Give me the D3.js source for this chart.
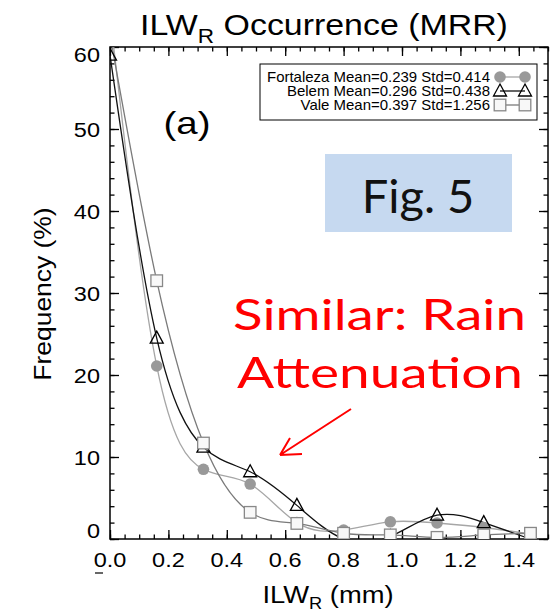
<!DOCTYPE html>
<html>
<head>
<meta charset="utf-8">
<script src="https://cdn.jsdelivr.net/npm/d3@7"></script>
<style>
body{margin:0;background:#fff;}
svg{display:block;font-family:"Liberation Sans",Arial,Helvetica,sans-serif;}
</style>
</head>
<body>
<svg id="chart"></svg>
<script>
// bin centres (mm) and frequency (%) per site
var xBins=[0.00,0.16,0.32,0.48,0.64,0.80,0.96,1.12,1.28,1.44]
var fortaleza=[64,21.1,8.5,6.7,2.0,1.1,2.1,1.95,1.4,0.6]
var belem=[59,24.5,11.2,8.2,4.1,0,0.3,2.9,2.0,0]
var vale=[61.5,31.5,11.7,3.25,1.9,0.7,0.5,0.2,0.5,0.7]
var legendLabels=["Fortaleza Mean=0.239 Std=0.414","Belem Mean=0.296 Std=0.438","Vale Mean=0.397 Std=1.256"]
var xTicks=[0.0,0.2,0.4,0.6,0.8,1.0,1.2,1.4]
var yTicks=[0,10,20,30,40,50,60]

var width=554,height=613
var pLeft=110,pRight=548,pTop=47,pBottom=539

var svg=d3.select("#chart").attr("width",width).attr("height",height)

var x=d3.scaleLinear().domain([0,1.5]).range([pLeft,pRight])
var y=d3.scaleLinear().domain([0,60]).range([pBottom,pTop])

svg.append("defs").append("clipPath").attr("id","clip")
.append("rect").attr("x",pLeft).attr("y",pTop).attr("width",pRight-pLeft).attr("height",pBottom-pTop)

// text a bit wider than the installed font, like the source image
function stext(px,py,sx,size,anchor){
	return svg.append("g").attr("transform",`translate(${px},${py}) scale(${sx},1)`)
	.append("text").attr("text-anchor",anchor||"middle").attr("font-size",size)
}

// axes: majors + minors, ticks pointing inward, mirrored on top/right
var minorX=d3.range(0,1.5001,0.05)
var minorY=d3.range(0,60.001,2)
function drawAxis(axis,tr){
	svg.append("g").attr("transform",tr).call(axis)
	.call(g=>g.select(".domain").remove())
	.call(g=>g.selectAll("line").attr("stroke","#000").attr("stroke-width",1.3))
}
drawAxis(d3.axisBottom(x).tickValues(minorX).tickSize(-4.5).tickFormat(""),`translate(0,${pBottom})`)
drawAxis(d3.axisBottom(x).tickValues(xTicks).tickSize(-9).tickFormat(""),`translate(0,${pBottom})`)
drawAxis(d3.axisTop(x).tickValues(minorX).tickSize(-4.5).tickFormat(""),`translate(0,${pTop})`)
drawAxis(d3.axisTop(x).tickValues(xTicks).tickSize(-9).tickFormat(""),`translate(0,${pTop})`)
drawAxis(d3.axisLeft(y).tickValues(minorY).tickSize(-4.5).tickFormat(""),`translate(${pLeft},0)`)
drawAxis(d3.axisLeft(y).tickValues(yTicks).tickSize(-9).tickFormat(""),`translate(${pLeft},0)`)
drawAxis(d3.axisRight(y).tickValues(minorY).tickSize(-4.5).tickFormat(""),`translate(${pRight},0)`)
drawAxis(d3.axisRight(y).tickValues(yTicks).tickSize(-9).tickFormat(""),`translate(${pRight},0)`)

svg.append("rect").attr("x",pLeft).attr("y",pTop).attr("width",pRight-pLeft).attr("height",pBottom-pTop)
.attr("fill","none").attr("stroke","#000").attr("stroke-width",1.5)

xTicks.forEach(d=>{
	stext(x(d),567,1.12,21).text(d.toFixed(1))
})
yTicks.forEach(d=>{
	var off=d===0?-9:(d===60?7:0)
	stext(100,y(d)+7.5+off,1.12,21,"end").text(d)
})

// lines (spline through the points) and symbols
var line=d3.line().x((d,i)=>x(xBins[i])).y(d=>y(d)).curve(d3.curveNatural)
var plot=svg.append("g").attr("clip-path","url(#clip)")

var series=[
	{vals:fortaleza,line:"#a6a6a6",sym:"circle"},
	{vals:belem,line:"#111",sym:"triangle"},
	{vals:vale,line:"#7a7a7a",sym:"square"}
]

function symbol(g,type,cx,cy){
	if(type==="circle"){
		g.append("circle").attr("cx",cx).attr("cy",cy).attr("r",5.8).attr("fill","#999")
	}else if(type==="triangle"){
		g.append("path").attr("d",`M${cx},${cy-7}L${cx+6.5},${cy+5}L${cx-6.5},${cy+5}Z`)
		.attr("fill","none").attr("stroke","#000").attr("stroke-width",1.3)
	}else{
		g.append("rect").attr("x",cx-5.8).attr("y",cy-5.8).attr("width",11.6).attr("height",11.6)
		.attr("fill","#f8f8f8").attr("stroke","#888").attr("stroke-width",1.3)
	}
}

series.forEach(s=>{
	plot.append("path").datum(s.vals).attr("d",line)
	.attr("fill","none").attr("stroke",s.line).attr("stroke-width",1.3)
})
series.forEach(s=>{
	var g=plot.append("g")
	s.vals.forEach((v,i)=>symbol(g,s.sym,x(xBins[i]),y(v)))
})

// legend
var lg=svg.append("g")
lg.append("rect").attr("x",260).attr("y",64).attr("width",277).attr("height",56)
.attr("fill","#fff").attr("stroke","#000").attr("stroke-width",1)
legendLabels.forEach((t,i)=>{
	var cy=77+i*14
	stext(490,cy+5,1.07,14,"end").text(t)
	lg.append("line").attr("x1",500).attr("x2",525).attr("y1",cy).attr("y2",cy)
	.attr("stroke",series[i].line).attr("stroke-width",1.3)
	symbol(lg,series[i].sym,500,cy)
	symbol(lg,series[i].sym,525,cy)
})

// titles
var title=stext(324,35,1.13,30)
title.append("tspan").text("ILW")
title.append("tspan").attr("font-size",20).attr("dy",8).text("R")
title.append("tspan").attr("dy",-8).text(" Occurrence (MRR)")

var xl=stext(328,603,1.14,24)
xl.append("tspan").text("ILW")
xl.append("tspan").attr("font-size",16).attr("dy",6).text("R")
xl.append("tspan").attr("dy",-6).text(" (mm)")

svg.append("g").attr("transform","translate(51,294) rotate(-90) scale(1.15,1)")
.append("text").attr("text-anchor","middle").attr("font-size",23).text("Frequency (%)")

stext(187,134,1.2,32).text("(a)")

// annotations
svg.append("rect").attr("x",325).attr("y",154).attr("width",187).attr("height",78).attr("fill","#c6d9f0")
svg.append("text").attr("x",418).attr("y",213).attr("text-anchor","middle")
.attr("font-family","Lato,'Open Sans',sans-serif").attr("font-size",47).attr("fill","#111").text("Fig. 5")

svg.append("text").attr("x",233).attr("y",330)
.attr("textLength",293).attr("lengthAdjust","spacingAndGlyphs")
.attr("font-family","Lato,'Open Sans',sans-serif").attr("font-size",42).attr("fill","#ff0000").text("Similar: Rain")
svg.append("text").attr("x",237).attr("y",388)
.attr("textLength",286).attr("lengthAdjust","spacingAndGlyphs")
.attr("font-family","Lato,'Open Sans',sans-serif").attr("font-size",42).attr("fill","#ff0000").text("Attenuation")

svg.append("path").attr("d","M351,409L280,455M280,455L290,438M280,455L302,454")
.attr("fill","none").attr("stroke","#ff0000").attr("stroke-width",2)

svg.append("line").attr("x1",95).attr("x2",103).attr("y1",573).attr("y2",573).attr("stroke","#000").attr("stroke-width",1.2)
</script>
</body>
</html>
